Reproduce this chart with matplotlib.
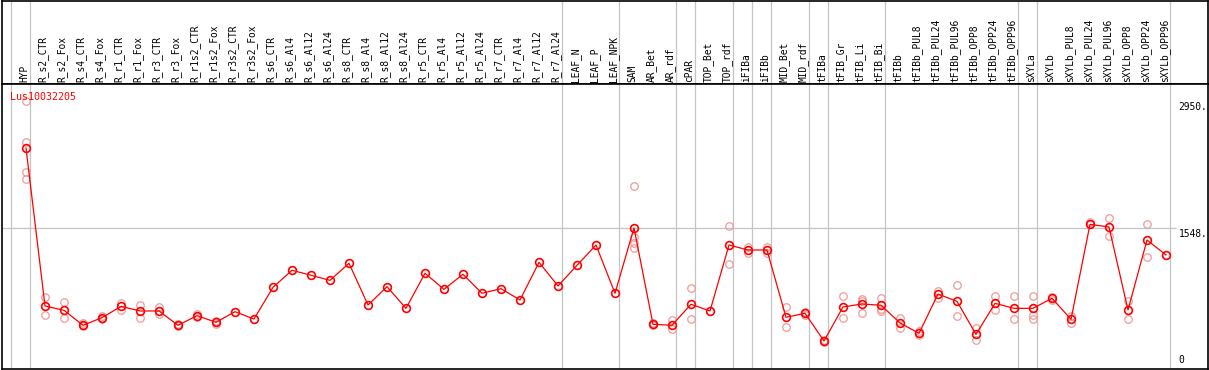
import numpy as np
import matplotlib
matplotlib.use('Agg')
import matplotlib.pyplot as plt

# sample names along the x axis
samples = [
    'HYP',
    'R_s2_CTR', 'R_s2_Fox', 'R_s4_CTR', 'R_s4_Fox', 'R_r1_CTR', 'R_r1_Fox',
    'R_r3_CTR', 'R_r3_Fox', 'R_r1s2_CTR', 'R_r1s2_Fox', 'R_r3s2_CTR', 'R_r3s2_Fox',
    'R_s6_CTR', 'R_s6_Al4', 'R_s6_Al12', 'R_s6_Al24',
    'R_s8_CTR', 'R_s8_Al4', 'R_s8_Al12', 'R_s8_Al24',
    'R_r5_CTR', 'R_r5_Al4', 'R_r5_Al12', 'R_r5_Al24',
    'R_r7_CTR', 'R_r7_Al4', 'R_r7_Al12', 'R_r7_Al24',
    'LEAF_N', 'LEAF_P', 'LEAF_NPK',
    'SAM', 'AR_Bet', 'AR_rdf', 'cPAR', 'TOP_Bet', 'TOP_rdf', 'iFIBa', 'iFIBb',
    'MID_Bet', 'MID_rdf', 'tFIBa', 'tFIB_Gr', 'tFIB_Li', 'tFIB_Bi', 'tFIBb',
    'tFIBb_PUL8', 'tFIBb_PUL24', 'tFIBb_PUL96', 'tFIBb_OPP8', 'tFIBb_OPP24', 'tFIBb_OPP96',
    'sXYLa', 'sXYLb',
    'sXYLb_PUL8', 'sXYLb_PUL24', 'sXYLb_PUL96', 'sXYLb_OPP8', 'sXYLb_OPP24', 'sXYLb_OPP96',
]

# mean expression per sample
means = [
    2434,
    690, 642, 477, 561, 686, 635, 635, 477, 583, 510, 627, 546,
    896, 1084, 1029, 973,
    1161, 701, 903, 664,
    1051, 874, 1040, 830,
    881, 756, 1172, 911,
    1139, 1363, 830,
    1551, 488, 477, 709, 635, 1363, 1308, 1308,
    565, 609, 304, 679, 712, 698, 503,
    388, 822, 741, 377, 719, 664,
    664, 775,
    543, 1591, 1562, 646, 1418, 1253,
]

# individual replicates per sample (empty = single sample)
replicates = [
    [2950, 2497, 2169, 2088],
    [786, 590], [734, 554], [499, 470], [575, 550], [726, 646], [701, 554],
    [682, 598], [490, 470], [600, 565], [525, 495], [], [],
    [], [], [], [],
    [], [], [], [],
    [], [], [], [],
    [], [], [], [],
    [], [], [],
    [2011, 1455, 1382, 1334], [500, 475], [535, 433], [885, 543], [], [1573, 1150],
    [1337, 1280], [1337, 1280],
    [675, 455], [625, 595], [320, 290], [800, 554], [767, 740, 616], [775, 660, 638],
    [554, 451],
    [410, 370], [855, 775], [918, 576], [451, 311], [800, 649], [800, 543],
    [800, 590, 550], [790, 760],
    [579, 499], [1620, 1600], [1661, 1462], [748, 543], [1591, 1227], [],
]

# index of the last sample in each group (group separators)
group_ends = [-1, 0, 28, 31, 34, 35, 37, 38, 39, 41, 42, 45, 52, 53, 60]

gene = 'Lus10032205'
y_labels = [2950, 1548, 0]
y_max = 3140

## layout in pixels
W, H = 1209, 370
x0_px, step_px = 26, 19
left_px, right_px = 1.5, 1208
head_bot_px = 84
plot_bot_px = 368.5

fig = plt.figure(figsize=(W / 100, H / 100), dpi=100)
xlim = ((left_px - x0_px) / step_px, (right_px - x0_px) / step_px)

head = fig.add_axes([left_px / W, (H - head_bot_px) / H,
                     (right_px - left_px) / W, (head_bot_px - 0.5) / H])
ax = fig.add_axes([left_px / W, (H - plot_bot_px) / H,
                   (right_px - left_px) / W, (plot_bot_px - head_bot_px) / H])

grid_color = '#c4c4c4'
for a in (head, ax):
    a.set_xlim(*xlim)
    a.set_xticks([])
    a.set_yticks([])
    for s in a.spines.values():
        s.set_color('black')
        s.set_linewidth(1.2)
    for g in group_ends:
        a.axvline(g + 0.23, color=grid_color, lw=0.9, zorder=0)

head.set_ylim(0, 1)
ax.set_ylim(0, y_max)

mono = 'DejaVu Sans Mono'
x = np.arange(len(samples))

# sample labels in the header
for i, name in enumerate(samples):
    head.text(i - 0.1, 0.02, name, rotation=90, ha='center', va='bottom',
              fontsize=6.9, family=mono, color='black')

# horizontal guide line
ax.hlines(1548, xlim[0], 60.55, color=grid_color, lw=0.9, zorder=0)

# replicates
rep_x = [i for i, reps in enumerate(replicates) for _ in reps]
rep_y = [v for reps in replicates for v in reps]
ax.plot(rep_x, rep_y, 'o', ms=5.4, mfc='none', mec='#f09a9a', mew=0.9, zorder=2)

# mean line
ax.plot(x, means, '-', color='#ff0000', lw=0.9, zorder=3)
ax.plot(x, means, 'o', ms=5.6, mfc='none', mec='#ff0000', mew=1.2, zorder=4)

# value labels on the right
for v in y_labels:
    va = 'bottom' if v == 0 else 'top'
    yy = v + 40 if v == 0 else v - 10
    ax.text(60.65, yy, '{}'.format(v) if v == 0 else '{}.'.format(v),
            ha='left', va=va, fontsize=6.9, family=mono, color='black')

ax.text((10 - left_px) / (right_px - left_px), 1 - 12.5 / (plot_bot_px - head_bot_px),
        gene, transform=ax.transAxes, ha='left', va='center',
        fontsize=7.2, family=mono, color='#ff0000', zorder=5)

fig.savefig('out.png', dpi=100)
